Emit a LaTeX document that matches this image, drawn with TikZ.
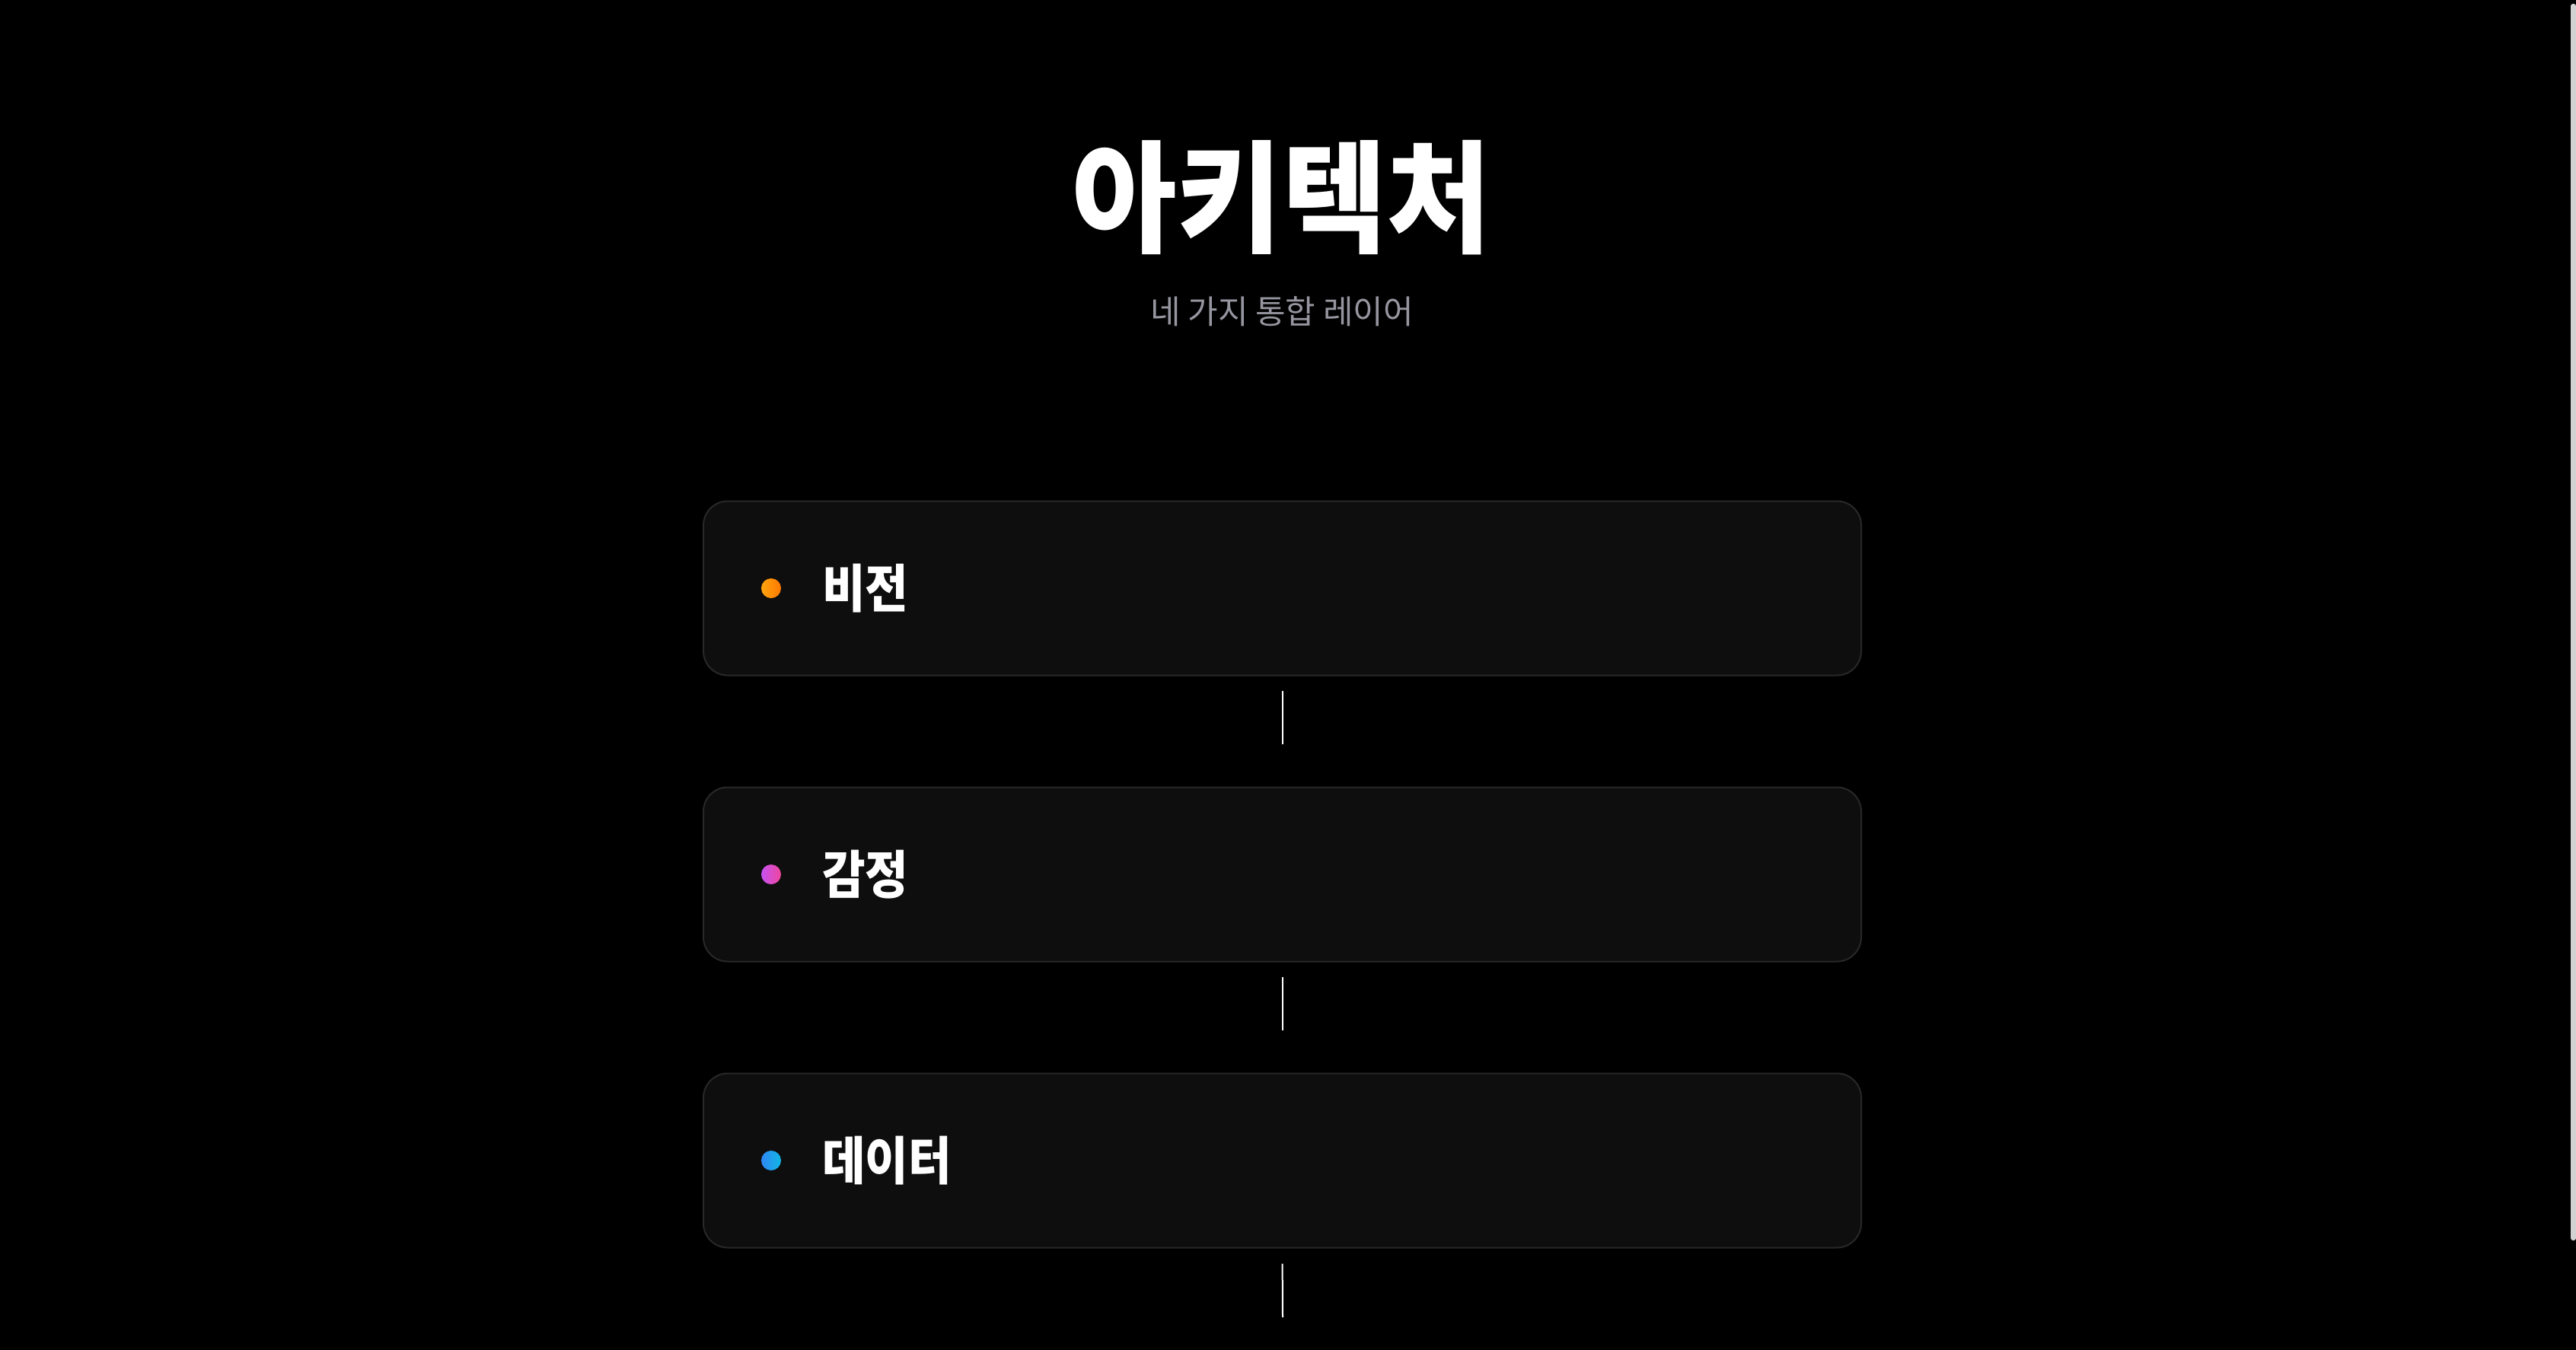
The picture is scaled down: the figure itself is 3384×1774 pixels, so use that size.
\documentclass[tikz,border=0pt]{standalone}
\usepackage{fontspec}
\newfontfamily\kr{Noto Sans CJK KR}
\newfontfamily\krlbl[FakeStretch=0.905]{Noto Sans CJK KR}
\newfontfamily\krtitle[FakeStretch=0.935]{Noto Sans CJK KR}
\usetikzlibrary{calc}
\definecolor{cardfill}{HTML}{0E0E0E}
\definecolor{cardline}{HTML}{282828}
\definecolor{subgray}{HTML}{9696A0}
\definecolor{scrollgray}{HTML}{D2D2D2}
\definecolor{orA}{HTML}{FFA50F}
\definecolor{orB}{HTML}{FF7800}
\definecolor{mgA}{HTML}{C652F2}
\definecolor{mgB}{HTML}{F0469C}
\definecolor{blA}{HTML}{2E88F6}
\definecolor{blB}{HTML}{12B6E2}
\tikzset{
  card/.style={draw=cardline, line width=2pt, fill=cardfill, rounded corners=32pt,
    minimum width=1521pt, minimum height=229pt, inner sep=0pt},
  dotmark/.style={circle, minimum size=26pt, inner sep=0pt, shading=axis, shading angle=90},
  lbl/.style={anchor=west, inner sep=0pt, text=white,
    font=\krlbl\bfseries\fontsize{68}{80}\selectfont},
  link/.style={draw=white, line width=2pt},
}
\begin{document}
\begin{tikzpicture}[x=1pt,y=-1pt]
\useasboundingbox (0,0) rectangle (3384,1774);
\fill[black] (0,0) rectangle (3384,1774);
\fill[scrollgray, rounded corners=3pt] (3377,5) rectangle (3384,1630);

\node[inner sep=0pt, text=white, font=\krtitle\bfseries\fontsize{160}{190}\selectfont] (title) at (1684,260) {아키텍처};
\node[inner sep=0pt, text=subgray, font=\kr\fontsize{43}{52}\selectfont] (subtitle) at (1684,409) {네 가지 통합 레이어};

\node[card] (b1) at (1684.5,773) {};
\node[card] (b2) at (1684.5,1149) {};
\node[card] (b3) at (1684.5,1525) {};

\node[dotmark, left color=orA, right color=orB] (d1) at (1013,773) {};
\node[dotmark, left color=mgA, right color=mgB] (d2) at (1013,1149) {};
\node[dotmark, left color=blA, right color=blB] (d3) at (1013,1525) {};

\node[lbl] (t1) at (1080,773) {비전};
\node[lbl] (t2) at (1080,1149) {감정};
\node[lbl] (t3) at (1080,1525) {데이터};

\coordinate (tail) at (1685,1731);
\draw[link, shorten <=19pt, shorten >=56pt] (b1.south) -- (b2.north);
\draw[link, shorten <=19pt, shorten >=56pt] (b2.south) -- (b3.north);
\draw[link, shorten <=20pt] (b3.south) -- (tail);
\end{tikzpicture}
\end{document}
